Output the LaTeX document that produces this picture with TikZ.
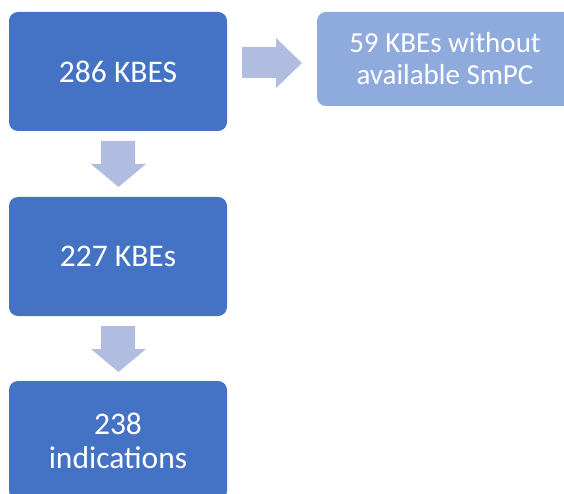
\documentclass[tikz,border=0pt]{standalone}
\usepackage{fontspec}
\setmainfont{Carlito}
\usetikzlibrary{positioning}
\definecolor{stageblue}{HTML}{4472C4}
\definecolor{sideblue}{HTML}{8FAADC}
\definecolor{flowblue}{HTML}{B0BDE0}

\begin{document}
\begin{tikzpicture}[x=1pt,y=-1pt,
    stage/.style={rectangle,rounded corners=9pt,fill=stageblue,text=white,
        minimum width=218pt,minimum height=119pt,align=center,
        font=\fontsize{31.5}{34}\selectfont},
    side/.style={stage,fill=sideblue,minimum width=256pt,minimum height=94pt,
        font=\fontsize{29}{32}\selectfont},
    flow/.style={fill=flowblue}]
    \clip (0,0) rectangle (564,494);
    \node[stage] (kbes) at (118,71.5) {286 KBES};
    \node[side] (nosmpc) at (445,59) {59 KBEs without\\available SmPC};
    \node[stage] (kept) at (118,256.5) {227 KBEs};
    \node[stage] (indic) at (118,440.5) {238\\indications};
    % block arrows
    \fill[flow] (242,47) -- (276,47) -- (276,38) -- (302,63)
        -- (276,88) -- (276,78) -- (242,78) -- cycle;
    \fill[flow] (101,141) -- (135,141) -- (135,164) -- (146,164)
        -- (118.5,187) -- (91,164) -- (101,164) -- cycle;
    \fill[flow] (101,326) -- (135,326) -- (135,349) -- (146,349)
        -- (118.5,372) -- (91,349) -- (101,349) -- cycle;
\end{tikzpicture}
\end{document}
